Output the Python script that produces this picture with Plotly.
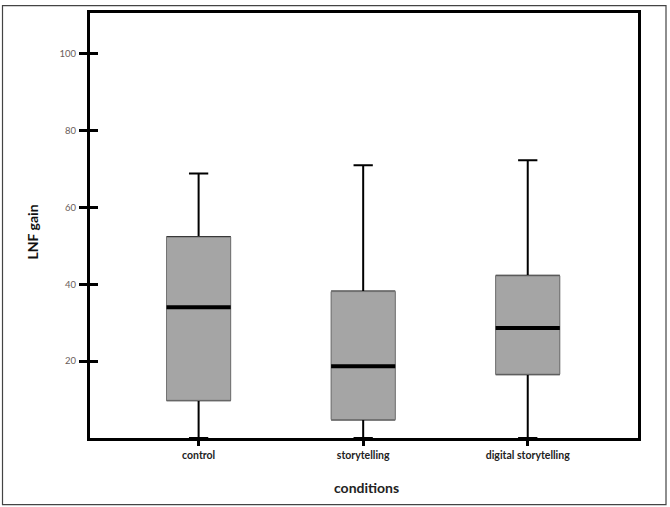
import plotly.graph_objects as go

# Summary statistics of LNF gain per condition
conditions = ["control", "storytelling", "digital storytelling"]
lower_whisker = [0.0, 0.0, 0.0]
q1_values = [9.8, 4.8, 16.6]
medians = [34.0, 18.7, 28.6]
q3_values = [52.3, 38.1, 42.2]
upper_whisker = [68.8, 71.0, 72.3]
y_ticks = [20, 40, 60, 80, 100]

positions = list(range(len(conditions)))
BOX_FILL = "#a5a5a5"
BOX_EDGE = "#747474"
BOX_W = 0.39

fig = go.Figure()

# whiskers and caps (black)
fig.add_trace(go.Box(
    x=positions, q1=q1_values, median=medians, q3=q3_values,
    lowerfence=lower_whisker, upperfence=upper_whisker,
    width=BOX_W - 0.012, whiskerwidth=0.31, fillcolor=BOX_FILL,
    line=dict(color="black", width=2), boxpoints=False,
    showlegend=False, hoverinfo="skip",
))
# gray box body with a thin soft edge
fig.add_trace(go.Box(
    x=positions, q1=q1_values, median=medians, q3=q3_values,
    lowerfence=q1_values, upperfence=q3_values,
    width=BOX_W, whiskerwidth=0, fillcolor=BOX_FILL,
    line=dict(color=BOX_EDGE, width=1), boxpoints=False,
    showlegend=False, hoverinfo="skip",
))
# thick median bar
fig.add_trace(go.Box(
    x=positions, q1=medians, median=medians, q3=medians,
    lowerfence=medians, upperfence=medians,
    width=BOX_W, whiskerwidth=0, fillcolor="rgba(0,0,0,0)",
    line=dict(color="black", width=4), boxpoints=False,
    showlegend=False, hoverinfo="skip",
))
# invisible trace carrying the secondary y axis (inner tick marks)
fig.add_trace(go.Scatter(
    x=[positions[0]], y=[medians[0]], yaxis="y2", mode="markers",
    marker=dict(opacity=0), showlegend=False, hoverinfo="skip",
))

FONT = "Lato"
L, R, T, B = 90, 32, 10, 69
W, H = 670, 507
pw, ph = W - L - R, H - T - B

fig.update_layout(
    width=W, height=H,
    margin=dict(l=L, r=R, t=T, b=B),
    paper_bgcolor="white", plot_bgcolor="white",
    boxmode="overlay",
    font=dict(family=FONT),
    xaxis=dict(
        range=[-0.66, 2.67], tickvals=positions, ticktext=conditions,
        showgrid=False, zeroline=False,
        showline=True, linecolor="black", linewidth=3, mirror=True,
        ticks="outside", ticklen=5, tickwidth=3, tickcolor="black",
        tickfont=dict(family=FONT, size=10.5, color="#222222", weight="bold"),
    ),
    yaxis=dict(
        range=[0, 110.6], tickvals=y_ticks,
        showgrid=False, zeroline=False,
        showline=True, linecolor="black", linewidth=3, mirror=True,
        ticks="outside", ticklen=8, tickwidth=3, tickcolor="black",
        tickfont=dict(family=FONT, size=9.5, color="#6a5e5a"),
        ticklabelstandoff=1,
    ),
    yaxis2=dict(
        range=[0, 110.6], tickvals=y_ticks, overlaying="y", side="left",
        showgrid=False, zeroline=False, showline=False, showticklabels=False,
        ticks="inside", ticklen=8, tickwidth=3, tickcolor="black",
    ),
    annotations=[
        dict(text="<b>LNF gain</b>", textangle=-90, xref="paper", yref="paper",
             x=(32 - L) / pw, y=(H - B - 231) / ph, xanchor="center", yanchor="middle",
             showarrow=False, font=dict(family=FONT, size=14, color="#111111")),
        dict(text="<b>conditions</b>", xref="paper", yref="paper",
             x=(366 - L) / pw, y=(H - B - 488) / ph, xanchor="center", yanchor="middle",
             showarrow=False, font=dict(family=FONT, size=14, color="#222222")),
    ],
    shapes=[
        dict(type="rect", xref="paper", yref="paper", layer="below",
             x0=(2.5 - L) / pw, x1=(666 - L) / pw,
             y0=(H - B - 505) / ph, y1=(H - B - 2.5) / ph,
             line=dict(color="#444444", width=1.2), fillcolor="rgba(0,0,0,0)"),
    ],
)

fig.write_html("out.html")
